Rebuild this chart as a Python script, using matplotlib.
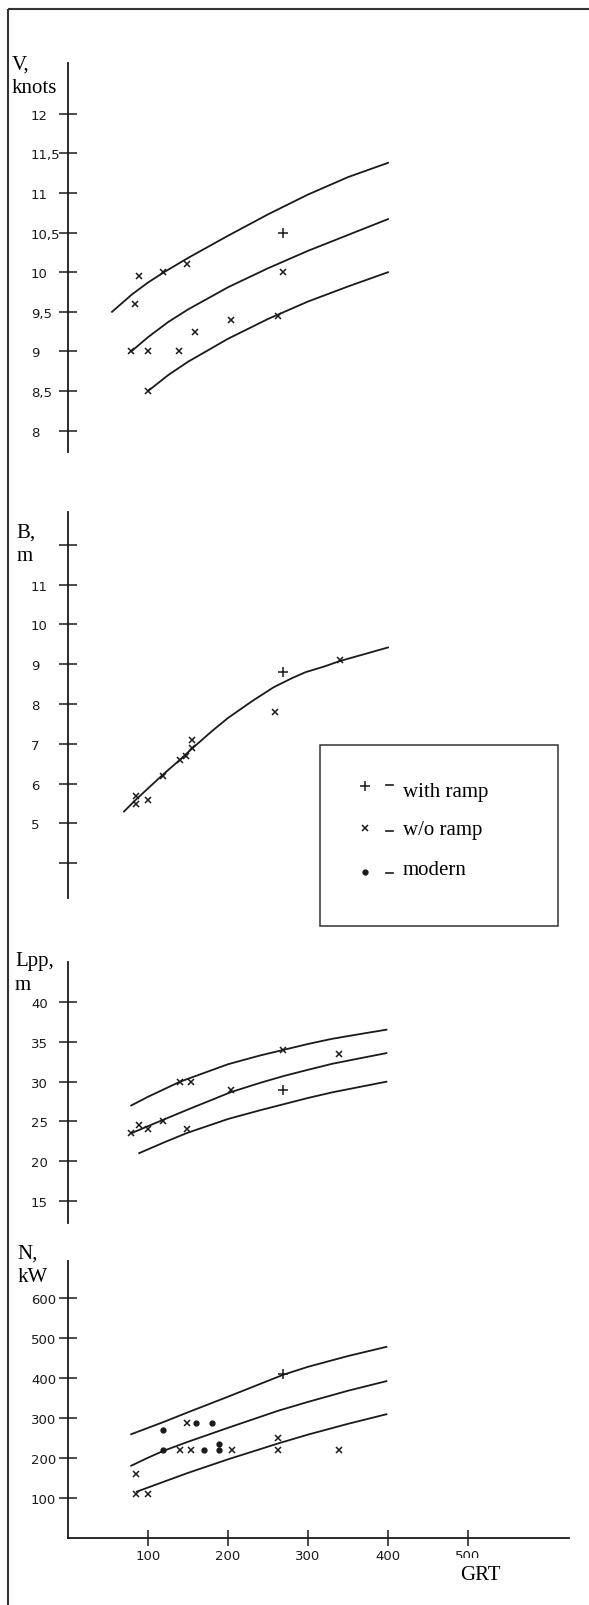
import matplotlib
matplotlib.use("Agg")
import matplotlib.pyplot as plt
from matplotlib.patches import Rectangle
import numpy as np

# ---- data (GRT on x) ----
# speed V, knots
v_top_grt = [55, 80, 100, 120, 150, 200, 250, 300, 350, 400]
v_top = [9.5, 9.72, 9.87, 10.0, 10.18, 10.46, 10.73, 10.98, 11.2, 11.38]
v_mid_grt = [79, 100, 125, 150, 200, 250, 300, 350, 400]
v_mid = [9.0, 9.18, 9.37, 9.53, 9.81, 10.05, 10.27, 10.47, 10.67]
v_low_grt = [100, 125, 150, 200, 250, 300, 350, 400]
v_low = [8.5, 8.7, 8.87, 9.16, 9.41, 9.63, 9.82, 10.0]
v_x_grt = [79, 84, 89, 100, 100, 119, 139, 149, 159, 204, 263, 269]
v_x = [9.0, 9.6, 9.95, 9.0, 8.5, 10.0, 9.0, 10.1, 9.25, 9.4, 9.45, 10.0]
v_plus_grt = [269]
v_plus = [10.5]

# breadth B, m
b_grt = [70, 85, 100, 120, 140, 155, 180, 200, 230, 257, 280, 297, 320, 340, 370, 400]
b_curve = [5.3, 5.6, 5.88, 6.25, 6.6, 6.88, 7.32, 7.65, 8.07, 8.42, 8.65, 8.8,
           8.94, 9.08, 9.25, 9.42]
b_x_grt = [85, 85, 100, 119, 140, 148, 155, 155, 259, 340]
b_x = [5.7, 5.5, 5.6, 6.2, 6.6, 6.7, 6.9, 7.1, 7.8, 9.1]
b_plus_grt = [269]
b_plus = [8.8]

# length Lpp, m
l_top_grt = [79, 100, 140, 200, 240, 269, 300, 330, 365, 398]
l_top = [27.0, 28.1, 30.0, 32.2, 33.3, 34.0, 34.75, 35.4, 36.0, 36.55]
l_mid_grt = [79, 100, 119, 150, 204, 240, 269, 300, 330, 365, 398]
l_mid = [23.5, 24.4, 25.2, 26.5, 28.7, 29.85, 30.7, 31.5, 32.25, 32.95, 33.6]
l_low_grt = [89, 120, 149, 200, 240, 269, 300, 330, 365, 398]
l_low = [21.0, 22.35, 23.55, 25.3, 26.4, 27.15, 27.95, 28.65, 29.35, 30.0]
l_x_grt = [79, 89, 100, 119, 140, 149, 154, 204, 269, 339]
l_x = [23.5, 24.5, 24.0, 25.0, 30.0, 24.0, 30.0, 29.0, 34.0, 33.5]
l_plus_grt = [269]
l_plus = [29.0]

# power N, kW
n_top_grt = [79, 120, 150, 200, 269, 300, 350, 398]
n_top = [259, 290, 314, 353, 408, 428, 455, 478]
n_mid_grt = [79, 100, 119, 150, 200, 263, 300, 350, 398]
n_mid = [180, 200, 217, 240, 275, 318, 340, 368, 392]
n_low_grt = [86, 120, 150, 200, 263, 300, 350, 398]
n_low = [115, 140, 162, 196, 236, 258, 285, 309]
n_x_grt = [85, 85, 100, 140, 149, 154, 205, 263, 263, 339]
n_x = [160, 110, 110, 220, 286, 220, 220, 250, 220, 220]
n_dot_grt = [119, 119, 160, 180, 170, 189, 189]
n_dot = [270, 219, 286, 286, 220, 235, 220]
n_plus_grt = [269]
n_plus = [410]

v_ticks = [8, 8.5, 9, 9.5, 10, 10.5, 11, 11.5, 12]
v_labels = ["8", "8,5", "9", "9,5", "10", "10,5", "11", "11,5", "12"]
b_ticks = [4, 5, 6, 7, 8, 9, 10, 11, 12]
b_labels = ["", "5", "6", "7", "8", "9", "10", "11", ""]
l_ticks = [15, 20, 25, 30, 35, 40]
l_labels = ["15", "20", "25", "30", "35", "40"]
n_ticks = [100, 200, 300, 400, 500, 600]
n_labels = ["100", "200", "300", "400", "500", "600"]
grt_ticks = [100, 200, 300, 400, 500]

W, H = 589, 1606
INK = "#1a1a1a"
SERIF = "Liberation Serif"

fig = plt.figure(figsize=(W / 100, H / 100), dpi=100)
fig.patch.set_facecolor("white")


def add_panel(top, bottom, ylim):
    # axes placed in pixel units, y axis line at x=68
    left, right = 68, 569
    ax = fig.add_axes([left / W, 1 - bottom / H, (right - left) / W, (bottom - top) / H])
    ax.set_xlim(0, (right - left) / 0.8)
    ax.set_ylim(*ylim)
    ax.patch.set_visible(False)
    for s in ["top", "right", "bottom"]:
        ax.spines[s].set_visible(False)
    ax.spines["left"].set_linewidth(1.3)
    ax.spines["left"].set_color(INK)
    ax.set_xticks([])
    ax.tick_params(axis="y", direction="inout", length=13, width=1.1, pad=20.2,
                   labelsize=9.5, colors=INK)
    return ax


def finish_yticks(ax, ticks, labels):
    ax.set_yticks(ticks)
    ax.set_yticklabels(labels)
    for t in ax.get_yticklabels():
        t.set_horizontalalignment("left")


def draw_marks(ax, xs, ys, kind):
    if kind == "x":
        ax.plot(xs, ys, ls="none", marker="x", ms=5, mew=1.1, color=INK)
    elif kind == "+":
        ax.plot(xs, ys, ls="none", marker="+", ms=7, mew=1.1, color=INK)
    else:
        ax.plot(xs, ys, ls="none", marker="o", ms=3.5, color=INK)


# V panel
ax1 = add_panel(64, 452.7, (7.735, 12.64))
finish_yticks(ax1, v_ticks, v_labels)
for gx, gy in [(v_top_grt, v_top), (v_mid_grt, v_mid), (v_low_grt, v_low)]:
    ax1.plot(gx, gy, color=INK, lw=1.3)
draw_marks(ax1, v_x_grt, v_x, "x")
draw_marks(ax1, v_plus_grt, v_plus, "+")

# B panel
ax2 = add_panel(512.7, 899.3, (3.12, 12.83))
finish_yticks(ax2, b_ticks, b_labels)
ax2.plot(b_grt, b_curve, color=INK, lw=1.3)
draw_marks(ax2, b_x_grt, b_x, "x")
draw_marks(ax2, b_plus_grt, b_plus, "+")

# Lpp panel
ax3 = add_panel(963.3, 1224, (12.2, 45.04))
finish_yticks(ax3, l_ticks, l_labels)
for gx, gy in [(l_top_grt, l_top), (l_mid_grt, l_mid), (l_low_grt, l_low)]:
    ax3.plot(gx, gy, color=INK, lw=1.3)
draw_marks(ax3, l_x_grt, l_x, "x")
draw_marks(ax3, l_plus_grt, l_plus, "+")

# N panel, carries the GRT axis
ax4 = add_panel(1261.7, 1538.5, (0, 694))
finish_yticks(ax4, n_ticks, n_labels)
ax4.spines["bottom"].set_visible(True)
ax4.spines["bottom"].set_linewidth(1.3)
ax4.spines["bottom"].set_color(INK)
ax4.set_xticks(grt_ticks)
ax4.set_xticklabels([str(g) for g in grt_ticks])
ax4.tick_params(axis="x", direction="inout", length=12, width=1.1, pad=2.3,
                labelsize=9.5, colors=INK)
for gx, gy in [(n_top_grt, n_top), (n_mid_grt, n_mid), (n_low_grt, n_low)]:
    ax4.plot(gx, gy, color=INK, lw=1.3)
draw_marks(ax4, n_x_grt, n_x, "x")
draw_marks(ax4, n_dot_grt, n_dot, "o")
draw_marks(ax4, n_plus_grt, n_plus, "+")

# overlay in pixel coords: frame, axis names, legend box
ov = fig.add_axes([0, 0, 1, 1])
ov.set_xlim(0, W)
ov.set_ylim(H, 0)
ov.axis("off")
ov.patch.set_visible(False)

ov.plot([8, 8], [9.5, H], color="#333333", lw=1.5, solid_capstyle="butt")
ov.plot([8, W], [9.5, 9.5], color="#333333", lw=1.5, solid_capstyle="butt")

tkw = dict(family=SERIF, fontsize=15, color="black", va="baseline", ha="left")
ov.text(12, 70, "V,", **tkw)
ov.text(11.5, 93.3, "knots", **tkw)
ov.text(16.5, 537.3, "B,", **tkw)
ov.text(16.5, 560.7, "m", **tkw)
ov.text(15, 965.7, "Lpp,", **tkw)
ov.text(15, 990, "m", **tkw)
ov.text(17.5, 1258.3, "N,", **tkw)
ov.text(17.5, 1281.7, "kW", **tkw)
# white label patch under GRT hides the lower half of "500", as in the scan
ov.add_patch(Rectangle((440, 1559), 80, 36, fc="white", ec="none"))
ov.text(460, 1580, "GRT", **tkw)

ov.add_patch(Rectangle((320, 746), 238, 181, fill=False, ec="#333333", lw=1.1))
ov.plot([365], [787], ls="none", marker="+", ms=7, mew=1.1, color=INK)
ov.plot([365], [829], ls="none", marker="x", ms=4.5, mew=1.1, color=INK)
ov.plot([365], [873], ls="none", marker="o", ms=3.5, color=INK)
for yy in [786, 832, 874]:
    ov.plot([386, 393], [yy, yy], color=INK, lw=1.2)
ov.text(403, 796.7, "with ramp", **tkw)
ov.text(403, 835, "w/o ramp", **tkw)
ov.text(403, 875, "modern", **tkw)

fig.savefig("out.png", dpi=100, facecolor="white")
